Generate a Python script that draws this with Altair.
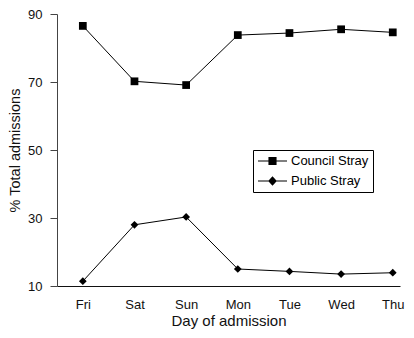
import altair as alt
import pandas as pd
import json

days = ["Fri", "Sat", "Sun", "Mon", "Tue", "Wed", "Thu"]
council_stray = [86.5, 70.2, 69.1, 83.8, 84.4, 85.5, 84.6]
public_stray = [11.4, 28.0, 30.3, 15.0, 14.3, 13.5, 13.9]
series_names = ["Council Stray", "Public Stray"]
y_ticks = [10, 30, 50, 70, 90]

rows = []
for i, d in enumerate(days):
    rows.append({"idx": i, "day": d, "series": series_names[0], "value": council_stray[i]})
    rows.append({"idx": i, "day": d, "series": series_names[1], "value": public_stray[i]})
df = pd.DataFrame(rows)

FONT = "Liberation Sans"

x_enc = alt.X(
    "idx:Q",
    scale=alt.Scale(domain=[-0.5, 6.14], nice=False, zero=False),
    axis=alt.Axis(
        values=list(range(len(days))),
        labelExpr=f"{json.dumps(days)}[datum.value]",
        title="Day of admission",
        ticks=False,
        grid=False,
        domainColor="#111",
        labelPadding=12,
        titlePadding=2,
        titleFontSize=15,
    ),
)
y_enc = alt.Y(
    "value:Q",
    scale=alt.Scale(domain=[10, 90], nice=False, zero=False),
    axis=alt.Axis(
        values=y_ticks,
        title="% Total admissions",
        grid=False,
        tickSize=7,
        tickColor="#444",
        domainColor="#444",
        labelPadding=8,
        titlePadding=5,
        titleFontSize=14.5,
    ),
)

lines = alt.Chart(df).mark_line(color="black", strokeWidth=1).encode(
    x=x_enc, y=y_enc, detail="series:N"
)

points = alt.Chart(df).mark_point(filled=True, color="black", opacity=1, size=60).encode(
    x=x_enc,
    y=y_enc,
    shape=alt.Shape(
        "series:N",
        scale=alt.Scale(domain=series_names, range=["square", "diamond"]),
        legend=None,
    ),
)

legend_paths = [
    "M-1,-0.035H1V0.035H-1ZM-0.28,-0.28H0.28V0.28H-0.28Z",
    "M-1,-0.035H1V0.035H-1ZM-0.3,0L0,-0.32L0.3,0L0,0.32Z",
]
legend_layer = (
    alt.Chart(df)
    .transform_filter("false")
    .mark_point(filled=True, color="black", size=841, opacity=1)
    .encode(
        x=x_enc,
        y=y_enc,
        shape=alt.Shape(
            "series:N",
            scale=alt.Scale(domain=series_names, range=legend_paths),
            legend=alt.Legend(
                title=None,
                orient="none",
                legendX=196,
                legendY=136,
                strokeColor="black",
                padding=4,
                rowPadding=6,
                clipHeight=14,
                labelOffset=3,
                labelFontSize=13,
                labelFont=FONT,
                labelColor="black",
                symbolSize=841,
                symbolFillColor="black",
                symbolOpacity=1,
            ),
        ),
    )
)

chart = (
    alt.layer(lines, points, legend_layer)
    .resolve_scale(shape="independent")
    .properties(
        width=343,
        height=272,
        autosize=alt.AutoSizeParams(type="none"),
        padding={"left": 49, "top": 6, "right": 6, "bottom": 44},
    )
    .configure_view(stroke=None)
    .configure_axis(
        labelFont=FONT,
        titleFont=FONT,
        labelFontSize=13,
        titleFontWeight="normal",
        labelColor="#111",
        titleColor="#111",
    )
)

chart.save("out.html", embed_options={"renderer": "svg", "actions": False})
